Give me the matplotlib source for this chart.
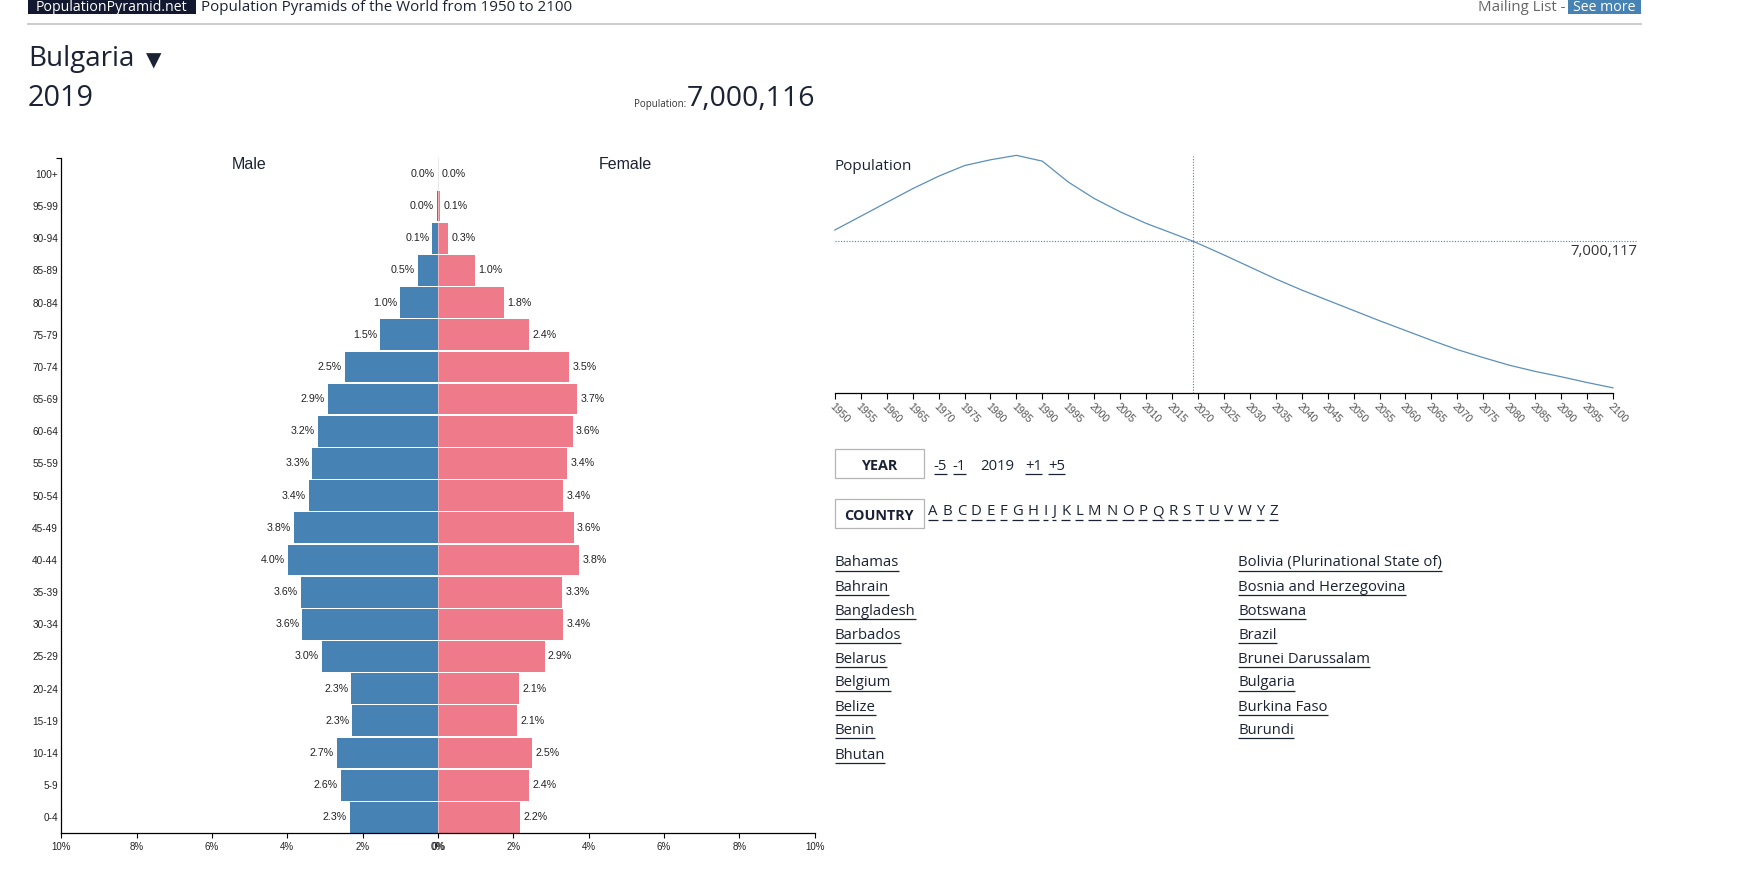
import matplotlib
matplotlib.use("Agg")
import matplotlib.pyplot as plt
from matplotlib.patches import Rectangle

ages = ["0-4","5-9","10-14","15-19","20-24","25-29","30-34","35-39","40-44","45-49","50-54",
        "55-59","60-64","65-69","70-74","75-79","80-84","85-89","90-94","95-99","100+"]
male = [2.33,2.57,2.68,2.27,2.30,3.07,3.60,3.63,3.98,3.83,3.42,3.33,3.19,2.92,2.48,1.53,1.00,0.53,0.15,0.03,0.0]
female = [2.18,2.42,2.50,2.09,2.15,2.83,3.33,3.30,3.75,3.60,3.33,3.42,3.57,3.69,3.48,2.42,1.74,0.97,0.27,0.06,0.0]
male_labels = ["2.3%","2.6%","2.7%","2.3%","2.3%","3.0%","3.6%","3.6%","4.0%","3.8%","3.4%","3.3%","3.2%","2.9%","2.5%","1.5%","1.0%","0.5%","0.1%","0.0%","0.0%"]
female_labels = ["2.2%","2.4%","2.5%","2.1%","2.1%","2.9%","3.4%","3.3%","3.8%","3.6%","3.4%","3.4%","3.6%","3.7%","3.5%","2.4%","1.8%","1.0%","0.3%","0.1%","0.0%"]
pct_ticks = [-10,-8,-6,-4,-2,0,2,4,6,8,10]
pct_labels = ["10%","8%","6%","4%","2%","0%","2%","4%","6%","8%","10%"]

years = [1950,1955,1960,1965,1970,1975,1980,1985,1990,1995,2000,2005,2010,2015,2019,2020,2025,2030,2035,2040,
         2045,2050,2055,2060,2065,2070,2075,2080,2085,2090,2095,2100]
population = [7.25,7.56,7.87,8.18,8.46,8.70,8.83,8.93,8.80,8.33,7.96,7.66,7.40,7.18,7.00,6.95,6.69,6.42,6.15,5.90,
              5.67,5.44,5.21,4.99,4.77,4.56,4.38,4.21,4.07,3.95,3.82,3.70]
year_ticks = list(range(1950, 2101, 5))
current_year = 2019
current_pop = 7.00

letters = list("ABCDEFGHIJKLMNOPQRSTUVWYZ")
countries_left = ["Bahamas","Bahrain","Bangladesh","Barbados","Belarus","Belgium","Belize","Benin","Bhutan"]
countries_right = ["Bolivia (Plurinational State of)","Bosnia and Herzegovina","Botswana","Brazil",
                   "Brunei Darussalam","Bulgaria","Burkina Faso","Burundi"]

W, H = 1568, 782
BLUE, PINK, INK = "#4682b4", "#ef7a8a", "#1b2233"
UI = ["Open Sans", "DejaVu Sans"]
ARIAL = ["Liberation Sans", "DejaVu Sans"]

fig = plt.figure(figsize=(17.43, 8.69), dpi=100, facecolor="white")

def box(x0, y0, x1, y1):
    return fig.add_axes([x0/W, 1-y1/H, (x1-x0)/W, (y1-y0)/H])

pg = box(0, 0, W, H)
pg.set_xlim(0, W); pg.set_ylim(H, 0); pg.axis("off")

def txt(x, y, s, size=11, color=INK, ha="left", va="center", weight="normal", family=UI):
    return pg.text(x, y, s, fontsize=size, color=color, ha=ha, va=va, weight=weight, family=family)

def link(x, y, s, size=10.7):
    t = txt(x, y, s, size=size)
    bb = t.get_window_extent(fig.canvas.get_renderer())
    wd = bb.width * W / fig.bbox.width
    pg.plot([x, x+wd], [y+7, y+7], color=INK, lw=0.9, solid_capstyle="butt")
    return wd

# header
pg.add_patch(Rectangle((25, 0), 151, 13, fc="#11182f", ec="none"))
txt(100.5, 6.5, "PopulationPyramid.net", size=10.2, color="white", ha="center")
txt(181, 7, "Population Pyramids of the World from 1950 to 2100", size=10.9)
txt(1408, 7, "Mailing List -", size=10.8, color="#666666", ha="right")
pg.add_patch(Rectangle((1411, 0), 65, 13, fc=BLUE, ec="none"))
txt(1443.5, 6.5, "See more", size=10.2, color="white", ha="center")
pg.plot([25, 1476], [22, 22], color="#c8c8c8", lw=1.3)

txt(25, 53.5, "Bulgaria", size=20)
txt(131, 55, "\u25BC", size=14.5, family=["DejaVu Sans"])
txt(25, 89, "2019", size=20.7)
txt(617, 94, "Population:", size=7, ha="right", color="#333333")
txt(733, 89, "7,000,116", size=20.5, ha="right")

# pyramid
ax = box(55, 142, 733, 750)
ax.patch.set_alpha(0)
pos = list(range(len(ages)))
ax.barh(pos, [-v for v in male], height=0.955, color=BLUE, linewidth=0)
ax.barh(pos, female, height=0.955, color=PINK, linewidth=0)
ax.axvline(0, color="#d5d5d5", lw=0.6, zorder=0)
ax.axvline(0, color="white", lw=0.5, alpha=0.55, zorder=3)
ax.set_xlim(-10, 10); ax.set_ylim(-0.5, 20.5)
for sp in ("top", "right"):
    ax.spines[sp].set_visible(False)
ax.spines["left"].set_linewidth(0.9); ax.spines["bottom"].set_linewidth(0.9)
ax.set_yticks(pos); ax.set_yticklabels(ages, fontsize=7.2, family=ARIAL, color="#222222")
ax.set_yticks([20.5], minor=True)
ax.set_xticks(pct_ticks); ax.set_xticklabels(pct_labels, fontsize=7, family=ARIAL, color="#222222")
ax.tick_params(axis="y", which="major", length=0, pad=2.2)
ax.tick_params(axis="y", which="minor", length=3.5, width=0.8)
ax.tick_params(axis="x", length=3.5, width=0.8, pad=3)
ax.annotate(pct_labels[5], (0, -0.5), xytext=(0.35, -6.5), textcoords="offset points", ha="center", va="top",
            fontsize=7, family=ARIAL, color="#222222", annotation_clip=False)
for i in pos:
    ax.annotate(male_labels[i], (-male[i], i), xytext=(-2.2, 0), textcoords="offset points",
                ha="right", va="center", fontsize=7.7, family=ARIAL, color="#222222")
    ax.annotate(female_labels[i], (female[i], i), xytext=(2.4, 0), textcoords="offset points",
                ha="left", va="center", fontsize=7.7, family=ARIAL, color="#222222")
txt(224.5, 148, "Male", size=11.5, family=ARIAL, ha="center")
txt(563, 148, "Female", size=11.5, family=ARIAL, ha="center")

# population line
y_low, y_high = 7.0 - 137*0.025, 7.0 + 77*0.025
lx = box(751, 140, 1451, 354)
lx.patch.set_alpha(0)
lx.set_xlim(1950, 2100)
lx.set_ylim(y_low, y_high)
lx.plot(years, population, color="#5b8fba", lw=0.9, clip_on=False)
lx.plot([current_year, current_year], [y_low, y_high], color=BLUE, lw=0.8, ls=(0, (1, 1.5)))
lx.plot([1950, 2104.7], [current_pop, current_pop], color=BLUE, lw=0.8, ls=(0, (1, 1.5)), clip_on=False)
for sp in ("top", "right", "left"):
    lx.spines[sp].set_visible(False)
lx.spines["bottom"].set_linewidth(0.9)
lx.set_yticks([])
lx.set_xticks(year_ticks)
lx.set_xticklabels([str(y) for y in year_ticks], rotation=-45, ha="left", va="top",
                   rotation_mode="anchor", fontsize=7.6, family=ARIAL, color="#555555")
lx.tick_params(axis="x", length=4, width=0.8, pad=2)
txt(751, 149.5, "Population", size=11)
txt(1473, 226, "7,000,117", size=10.7, ha="right", color="#333333")

# controls
for y0, label in ((404, "YEAR"), (449, "COUNTRY")):
    pg.add_patch(Rectangle((751, y0), 80, 26, fc="white", ec="#b5b5b5", lw=0.9))
    txt(791, y0+15, label, size=10.4, weight="bold", ha="center")
for x, s in ((840, "-5"), (857, "-1"), (922, "+1"), (943, "+5")):
    link(x, 419.5, s)
txt(882, 419.5, "2019", size=10.7)

x = 835
for s in letters:
    x += link(x, 460.5, s) + 4.3

rows = [506.5, 528.5, 550, 571.5, 593.5, 614.5, 636.5, 657.5, 679.5]
for y, s in zip(rows, countries_left):
    link(751, y, s)
for y, s in zip(rows, countries_right):
    link(1114, y, s)

fig.savefig("out.png", dpi=100, facecolor="white")
